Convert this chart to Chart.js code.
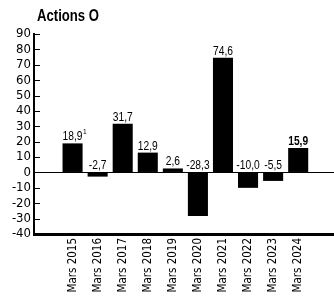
<!DOCTYPE html>
<html>
<head>
<meta charset="utf-8">
<script src="https://cdn.jsdelivr.net/npm/chart.js@4/dist/chart.umd.min.js"></script>
<style>
  body { margin: 0; background: #fff; }
</style>
</head>
<body>
<canvas id="myChart" width="334" height="299"></canvas>
<script>
// données
const categories = ['Mars 2015', 'Mars 2016', 'Mars 2017', 'Mars 2018', 'Mars 2019',
                    'Mars 2020', 'Mars 2021', 'Mars 2022', 'Mars 2023', 'Mars 2024'];
const values = [18.9, -2.7, 31.7, 12.9, 2.6, -28.3, 74.6, -10.0, -5.5, 15.9];
const notes = ['1', '', '', '', '', '', '', '', '', ''];   // renvois en exposant
const boldLabels = [false, false, false, false, false, false, false, false, false, true];
const yTicks = [-40, -30, -20, -10, 0, 10, 20, 30, 40, 50, 60, 70, 80, 90];
const titre = 'Actions O';

const TICK_FONT = "'DejaVu Sans'";
const TEXT_FONT = "'Liberation Sans', Arial, sans-serif";
const NARROW = 0.82;   // écrasement horizontal, façon police étroite

function formatFr(v) {
    return v.toFixed(1).replace('.', ',');
}

// texte écrasé horizontalement
function narrowText(ctx, txt, x, y, align) {
    const w = ctx.measureText(txt).width * NARROW;
    let left = x;
    if (align === 'center') left = x - w / 2;
    ctx.save();
    ctx.translate(left, y);
    ctx.scale(NARROW, 1);
    ctx.textAlign = 'left';
    ctx.fillText(txt, 0, 0);
    ctx.restore();
    return w;
}

// titre + petites graduations vers l'intérieur + étiquettes de valeurs
const decorPlugin = {
    id: 'decor',
    afterDraw(chart) {
        const ctx = chart.ctx;
        const area = chart.chartArea;
        const y = chart.scales.y;
        ctx.save();

        // titre
        ctx.fillStyle = '#000';
        ctx.font = 'bold 16px ' + TEXT_FONT;
        ctx.textBaseline = 'alphabetic';
        narrowText(ctx, titre, area.left + 3, 21, 'left');

        // graduations
        ctx.strokeStyle = '#000';
        ctx.lineWidth = 1;
        yTicks.forEach(t => {
            const py = Math.round(y.getPixelForValue(t)) + 0.5;
            ctx.beginPath();
            ctx.moveTo(area.left, py);
            ctx.lineTo(area.left + 6, py);
            ctx.stroke();
        });
        ctx.restore();
    },
    afterDatasetsDraw(chart) {
        const ctx = chart.ctx;
        const y = chart.scales.y;
        const meta = chart.getDatasetMeta(0);
        ctx.save();
        ctx.fillStyle = '#000';
        ctx.textBaseline = 'alphabetic';
        meta.data.forEach((bar, i) => {
            const v = values[i];
            const base = v >= 0 ? bar.y : y.getPixelForValue(0);
            const txt = formatFr(v);
            ctx.font = (boldLabels[i] ? 'bold ' : '') + '12.5px ' + TEXT_FONT;
            const w = narrowText(ctx, txt, bar.x, base - 3, 'center');
            if (notes[i]) {
                ctx.font = '8px ' + TEXT_FONT;
                narrowText(ctx, notes[i], bar.x + w / 2 + 0.5, base - 9, 'left');
            }
        });
        ctx.restore();
    }
};

const ctx = document.getElementById('myChart').getContext('2d');
const myChart = new Chart(ctx, {
    type: 'bar',
    data: {
        datasets: [{
            data: values.map((v, i) => ({ x: i, y: v })),
            backgroundColor: '#000',
            borderWidth: 0,
            barPercentage: 0.8,
            categoryPercentage: 1
        }]
    },
    options: {
        responsive: false,
        animation: false,
        layout: {
            padding: { top: 34, right: 0, bottom: 0, left: 0 }
        },
        plugins: {
            legend: { display: false },
            tooltip: { enabled: false }
        },
        scales: {
            x: {
                type: 'linear',
                min: -0.94,
                max: 9.83,
                afterBuildTicks(scale) {
                    scale.ticks = categories.map((c, i) => ({ value: i }));
                },
                afterFit(scale) {
                    scale.height = 65;
                },
                ticks: {
                    autoSkip: false,
                    minRotation: 90,
                    maxRotation: 90,
                    padding: 4,
                    color: '#000',
                    // 'condensed' glissé dans le poids pour obtenir DejaVu Sans Condensed
                    font: { family: TICK_FONT, size: 11.5, weight: 'normal condensed' },
                    callback: (value) => categories[value] ?? ''
                },
                grid: { drawOnChartArea: false, drawTicks: false, color: 'transparent' },
                border: { display: true, color: '#000', width: 3 }
            },
            y: {
                min: -40,
                max: 90,
                afterBuildTicks(scale) {
                    scale.ticks = yTicks.map(t => ({ value: t }));
                },
                afterFit(scale) {
                    scale.width = 34;
                },
                ticks: {
                    autoSkip: false,
                    padding: 3,
                    color: '#000',
                    font: { family: TICK_FONT, size: 13, weight: 'normal condensed' }
                },
                grid: {
                    drawTicks: false,
                    lineWidth: 1,
                    color: (c) => (c.tick && c.tick.value === 0 ? '#000' : 'transparent')
                },
                border: { display: true, color: '#000', width: 2 }
            }
        }
    },
    plugins: [decorPlugin]
});
</script>
</body>
</html>
